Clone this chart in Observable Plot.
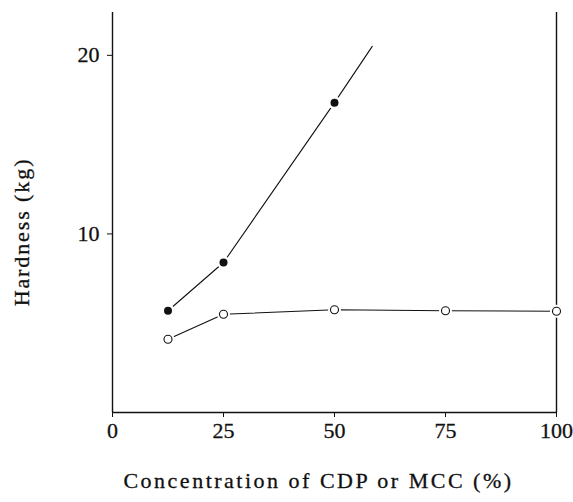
<!DOCTYPE html>
<html>
<head>
<meta charset="utf-8">
<script src="https://cdn.jsdelivr.net/npm/d3@7"></script>
<script src="https://cdn.jsdelivr.net/npm/@observablehq/plot@0.6"></script>
<style>
  html, body { margin: 0; padding: 0; background: #fff; }
</style>
</head>
<body>
<div id="chart"></div>
<script>
// Filled circles series
const filledX = [12.5, 25, 50];
const filledY = [5.7, 8.4, 17.35];
// line continuation of the filled series beyond the last point
const filledLineEndX = [58.5];
const filledLineEndY = [20.5];
// Open circles series
const openX = [12.5, 25, 50, 75, 100];
const openY = [4.1, 5.5, 5.75, 5.7, 5.67];
const xTicks = [0, 25, 50, 75, 100];
const yTicks = [10, 20];
const xTitle = ["Concentration of CDP or MCC (%)"];
const yTitle = ["Hardness (kg)"];

const filled = filledX.map((x, i) => ({x, y: filledY[i]}));
const filledLine = filled.concat(filledLineEndX.map((x, i) => ({x, y: filledLineEndY[i]})));
const open = openX.map((x, i) => ({x, y: openY[i]}));

const chart = Plot.plot({
  width: 573,
  height: 502,
  marginLeft: 112,
  marginRight: 17,
  marginTop: 12,
  marginBottom: 90,
  style: {fontFamily: "'Liberation Serif', 'Times New Roman', serif", fontSize: "22px", background: "#fff", color: "#111"},
  x: {domain: [0, 100]},
  y: {domain: [0, 22.4]},
  marks: [
    Plot.ruleX([0, 100], {stroke: "#111", strokeWidth: 1.4}),
    Plot.ruleY([0], {stroke: "#111", strokeWidth: 1.4}),
    Plot.line(filledLine, {x: "x", y: "y", stroke: "#111", strokeWidth: 1.1}),
    Plot.line(open, {x: "x", y: "y", stroke: "#111", strokeWidth: 1.1}),
    Plot.dot(filled, {x: "x", y: "y", r: 6.5, fill: "#fff", stroke: "none"}),
    Plot.dot(open, {x: "x", y: "y", r: 6.5, fill: "#fff", stroke: "none"}),
    Plot.dot(filled, {x: "x", y: "y", r: 4, fill: "#111", stroke: "none"}),
    Plot.dot(open, {x: "x", y: "y", r: 4, fill: "#fff", stroke: "#111", strokeWidth: 1.1}),
    Plot.axisX({ticks: xTicks, tickSize: 5, tickPadding: 5, fontSize: 22, label: null}),
    Plot.axisY({ticks: yTicks, tickSize: 5, tickPadding: 8, fontSize: 22, label: null}),
    Plot.text(xTitle, {text: d => d, frameAnchor: "bottom", textAnchor: "middle", lineAnchor: "bottom", dx: -16, dy: 75, fontSize: 22, fill: "#111"}),
    Plot.text(yTitle, {text: d => d, frameAnchor: "left", textAnchor: "middle", lineAnchor: "bottom", rotate: -90, dx: -84, dy: 19.5, fontSize: 22, fill: "#111"})
  ]
});
d3.select(chart).selectAll("text").each(function() {
  const t = this.textContent;
  this.style.stroke = "#111";
  this.style.strokeWidth = "0.3px";
  if (t === xTitle[0]) this.style.letterSpacing = "2.5px";
  if (t === yTitle[0]) this.style.letterSpacing = "1.9px";
});
document.getElementById("chart").appendChild(chart);
</script>
</body>
</html>
